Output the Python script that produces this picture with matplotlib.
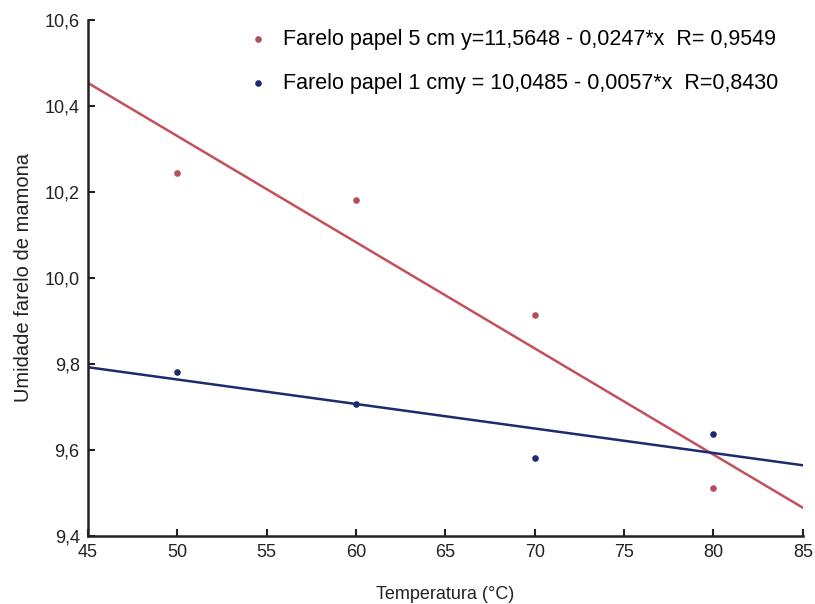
import matplotlib
matplotlib.use('Agg')
import matplotlib.pyplot as plt
from matplotlib.ticker import FuncFormatter
import numpy as np

plt.rcParams['font.family'] = ['Liberation Sans', 'DejaVu Sans']

# dados
temperatura = [50, 60, 70, 80]
farelo_5cm = [10.243, 10.180, 9.914, 9.512]
farelo_1cm = [9.782, 9.706, 9.582, 9.636]

# coeficientes das regressões (a, b) de y = a - b*x
coef_5cm = (11.5648, 0.0247)
coef_1cm = (10.0485, 0.0057)

labels = ['Farelo papel 5 cm y=11,5648 - 0,0247*x  R= 0,9549',
          'Farelo papel 1 cmy = 10,0485 - 0,0057*x  R=0,8430']

RED = '#c4505a'
RED_PT = '#b0505a'
BLUE = '#1c2a6e'

fig = plt.figure(figsize=(8.15, 6.04), dpi=100)
ax = fig.add_axes([0.108, 0.113, 0.877, 0.854])

xs = np.array([45, 85])
ax.plot(xs, coef_5cm[0] - coef_5cm[1] * xs, color=RED, lw=1.8, zorder=2)
ax.plot(xs, coef_1cm[0] - coef_1cm[1] * xs, color=BLUE, lw=1.8, zorder=2)

h1 = ax.scatter(temperatura, farelo_5cm, s=14, color=RED_PT, zorder=3)
h2 = ax.scatter(temperatura, farelo_1cm, s=14, color=BLUE, zorder=3)

ax.set_xlim(45, 85)
ax.set_ylim(9.4, 10.6)
ax.set_xticks(range(45, 86, 5))
ax.set_yticks([9.4, 9.6, 9.8, 10.0, 10.2, 10.4, 10.6])
ax.yaxis.set_major_formatter(FuncFormatter(lambda v, p: f'{v:.1f}'.replace('.', ',')))

for s in ['top', 'right']:
    ax.spines[s].set_visible(False)
for s in ['left', 'bottom']:
    ax.spines[s].set_linewidth(1.8)
    ax.spines[s].set_color('#222222')

ax.tick_params(direction='in', length=5, width=1.5, labelsize=13, colors='#222222', pad=6)

ax.set_xlabel('Temperatura (°C)', fontsize=13, color='#222222', labelpad=18)
ax.set_ylabel('Umidade farelo de mamona', fontsize=14.5, color='#222222', labelpad=8)

ax.legend([h1, h2], labels, loc='upper right', bbox_to_anchor=(0.993, 1.02),
          frameon=False, fontsize=15.5, labelspacing=1.05, handletextpad=0.15,
          markerscale=1.0)

plt.savefig('out.png', dpi=100, facecolor='white')
plt.close()
